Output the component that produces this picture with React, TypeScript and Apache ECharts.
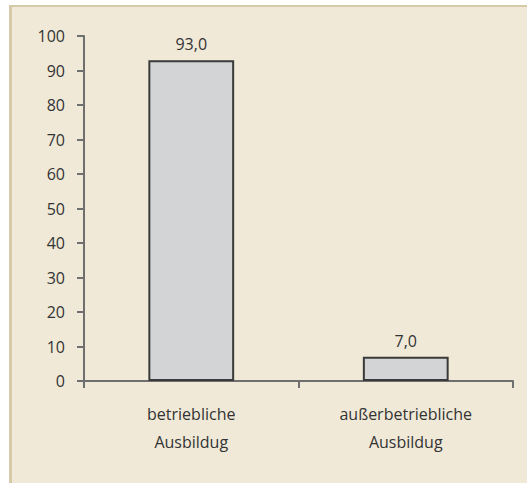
import React, { useEffect, useRef } from "react";
import * as echarts from "echarts";

const categories = ["betriebliche\nAusbildug", "außerbetriebliche\nAusbildug"];
const values = [93.0, 7.0];
const yMin = 0;
const yMax = 100;
const yInterval = 10;

export default function App() {
  const ref = useRef<HTMLDivElement>(null);
  useEffect(() => {
    if (!ref.current) return;
    const chart = echarts.init(ref.current, undefined, { renderer: "svg" });
    const font = "'Open Sans', 'Noto Sans', sans-serif";
    chart.setOption({
      animation: false,
      backgroundColor: "#ffffff",
      graphic: [
        { type: "rect", z: -10, silent: true, shape: { x: 9, y: 5, width: 530, height: 490 }, style: { fill: "#d6caa8" } },
        { type: "rect", z: -9, silent: true, shape: { x: 12, y: 7, width: 530, height: 490 }, style: { fill: "#f0e9d8" } },
      ],
      grid: { left: 84, right: 14, top: 36, bottom: 102, containLabel: false },
      xAxis: {
        type: "category",
        data: categories,
        axisLine: { show: true, lineStyle: { color: "#6f6f6f", width: 2 } },
        axisTick: { show: true, length: 7, lineStyle: { color: "#6f6f6f", width: 2 } },
        axisLabel: { margin: 19, lineHeight: 28, fontSize: 16, color: "#333333", fontFamily: font },
      },
      yAxis: {
        type: "value",
        min: yMin,
        max: yMax,
        interval: yInterval,
        axisLine: { show: true, lineStyle: { color: "#6f6f6f", width: 2 } },
        axisTick: { show: true, length: 7, lineStyle: { color: "#6f6f6f", width: 2 } },
        axisLabel: { margin: 19, fontSize: 16, color: "#333333", fontFamily: font },
        splitLine: { show: false },
      },
      series: [
        {
          type: "bar",
          data: values,
          barWidth: "40%",
          itemStyle: { color: "#d3d4d6", borderColor: "#3a3a3a", borderWidth: 2 },
          label: {
            show: true,
            position: "top",
            distance: 8,
            fontSize: 16,
            color: "#333333",
            fontFamily: font,
            formatter: (p: any) => Number(p.value).toFixed(1).replace(".", ","),
          },
        },
      ],
    });
    return () => chart.dispose();
  }, []);
  return (
    <div
      ref={ref}
      style={{ position: "absolute", left: 0, top: 0, width: 527, height: 483 }}
    />
  );
}
